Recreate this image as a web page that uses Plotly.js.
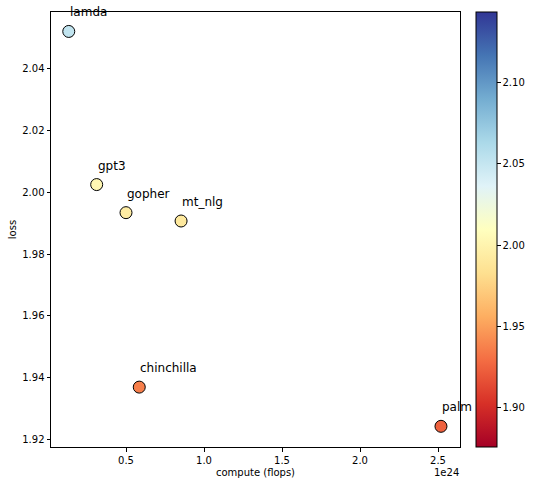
<!DOCTYPE html>
<html>
<head>
<meta charset="utf-8">
<script src="https://cdn.plot.ly/plotly-3.0.1.min.js"></script>
<style>html,body{margin:0;padding:0;background:#fff;}</style>
</head>
<body>
<div id="chart" style="width:533px;height:485px;"></div>
<script>
const models = ["lamda", "gpt3", "gopher", "mt_nlg", "chinchilla", "palm"];
const compute = [0.133e24, 0.312e24, 0.50e24, 0.853e24, 0.585e24, 2.519e24];
const loss = [2.0521, 2.0025, 1.9934, 1.9907, 1.9369, 1.9242];
const xTickVals = [0.5e24, 1.0e24, 1.5e24, 2.0e24, 2.5e24];
const xTickText = ["0.5", "1.0", "1.5", "2.0", "2.5"];
const yTickVals = [1.92, 1.94, 1.96, 1.98, 2.00, 2.02, 2.04];
const cbTickVals = [1.90, 1.95, 2.00, 2.05, 2.10];

const RdYlBu = [
  [0.0, "#a50026"], [0.1, "#d73027"], [0.2, "#f46d43"], [0.3, "#fdae61"],
  [0.4, "#fee090"], [0.5, "#ffffbf"], [0.6, "#e0f3f8"], [0.7, "#abd9e9"],
  [0.8, "#74add1"], [0.9, "#4575b4"], [1.0, "#313695"]
];

const font = {family: "DejaVu Sans", size: 10, color: "#000"};

const trace = {
  type: "scatter",
  mode: "markers",
  x: compute,
  y: loss,
  text: models,
  cliponaxis: false,
  marker: {
    size: 12,
    color: loss,
    colorscale: RdYlBu,
    cmin: 1.876,
    cmax: 2.1432,
    line: {color: "#000", width: 1},
    showscale: true,
    colorbar: {
      x: 1.04, xanchor: "left", xref: "paper",
      y: 0.5, yanchor: "middle",
      len: 1, lenmode: "fraction",
      thickness: 21, thicknessmode: "pixels",
      xpad: 0, ypad: 0,
      outlinewidth: 1, outlinecolor: "#000",
      ticks: "outside", ticklen: 3.5, tickcolor: "#000",
      tickvals: cbTickVals, tickformat: ".2f",
      tickfont: font
    }
  },
  showlegend: false,
  hoverinfo: "text"
};

const annotations = models.map((m, i) => ({
  x: compute[i], y: loss[i], xref: "x", yref: "y",
  text: m, showarrow: false, xanchor: "left", yanchor: "bottom",
  xshift: -1, yshift: 10,
  font: {family: "DejaVu Sans", size: 12, color: "#000"}
}));
annotations.push({
  x: 1, y: 0, xref: "paper", yref: "paper", xanchor: "right", yanchor: "top",
  yshift: -18, xshift: 1, text: "1e24", showarrow: false, font: font
});

const layout = {
  width: 533, height: 485,
  margin: {l: 51, r: 73, t: 12, b: 38, autoexpand: false},
  paper_bgcolor: "#fff", plot_bgcolor: "#fff",
  font: font,
  xaxis: {
    range: [0.0192e24, 2.641e24],
    tickvals: xTickVals, ticktext: xTickText,
    showgrid: false, zeroline: false,
    showline: true, mirror: true, linecolor: "#000", linewidth: 1,
    ticks: "outside", ticklen: 3.5, tickcolor: "#000",
    tickfont: font, automargin: false,
    title: {text: "compute (flops)", font: font, standoff: 4}
  },
  yaxis: {
    range: [1.9175, 2.0584],
    tickvals: yTickVals, tickformat: ".2f",
    showgrid: false, zeroline: false,
    showline: true, mirror: true, linecolor: "#000", linewidth: 1,
    ticks: "outside", ticklen: 3.5, tickcolor: "#000",
    tickfont: font, automargin: false,
    title: {text: "loss", font: font, standoff: 3}
  },
  annotations: annotations
};

Plotly.newPlot("chart", [trace], layout, {displayModeBar: false, staticPlot: true});
</script>
</body>
</html>
